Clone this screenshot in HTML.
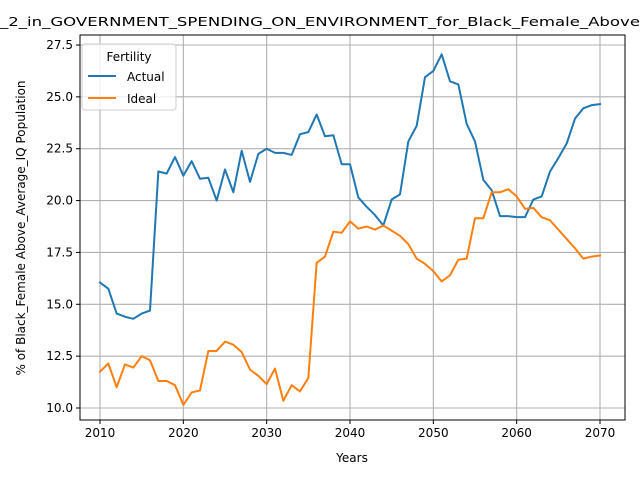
<!DOCTYPE html>
<html><head><meta charset="utf-8"><style>
body{margin:0;background:#fff}
svg{display:block;font-family:"DejaVu Sans","Liberation Sans",sans-serif}
</style></head><body>
<svg id="chart" width="640" height="480">
<text x="0" y="26" font-size="12.5" textLength="640" lengthAdjust="spacingAndGlyphs">_2_in_GOVERNMENT_SPENDING_ON_ENVIRONMENT_for_Black_Female_Above</text>
<g id="grid"></g><g id="axes"></g><g id="series"></g>
<rect x="80" y="35" width="545" height="385" fill="none" stroke="#000" stroke-width="1"/>
<text x="352" y="462" font-size="12" text-anchor="middle">Years</text>
<text transform="translate(25,228) rotate(-90)" font-size="12" text-anchor="middle">% of Black_Female Above_Average_IQ Population</text>
<g>
<rect x="82" y="44" width="94" height="66" rx="3" fill="#fff" fill-opacity="0.8" stroke="#ccc"/>
<text x="129" y="61" font-size="12" text-anchor="middle">Fertility</text>
<line x1="88" y1="76" x2="116" y2="76" stroke="#1f77b4" stroke-width="2"/>
<text x="127" y="81" font-size="12">Actual</text>
<line x1="88" y1="98" x2="116" y2="98" stroke="#ff7f0e" stroke-width="2"/>
<text x="127" y="103" font-size="12">Ideal</text>
</g>
</svg>
<script>
const years=[];for(let y=2010;y<=2070;y++)years.push(y);
const actual=[16.05,15.75,14.55,14.4,14.3,14.55,14.7,21.4,21.3,22.1,21.2,21.9,21.05,21.1,20.0,21.5,20.4,22.4,20.9,22.25,22.5,22.3,22.3,22.2,23.2,23.3,24.15,23.1,23.15,21.75,21.75,20.15,19.7,19.3,18.8,20.05,20.3,22.85,23.6,25.95,26.25,27.05,25.75,25.6,23.7,22.85,21.0,20.5,19.25,19.25,19.2,19.2,20.05,20.2,21.4,22.05,22.75,23.95,24.45,24.6,24.65];
const ideal=[11.75,12.15,11.0,12.1,11.95,12.5,12.3,11.3,11.3,11.1,10.15,10.75,10.85,12.75,12.75,13.2,13.05,12.7,11.85,11.55,11.15,11.9,10.35,11.1,10.8,11.45,17.0,17.3,18.5,18.45,19.0,18.65,18.75,18.6,18.8,18.55,18.3,17.9,17.2,16.95,16.6,16.1,16.4,17.15,17.2,19.15,19.15,20.4,20.4,20.55,20.2,19.6,19.65,19.2,19.05,18.6,18.15,17.7,17.2,17.3,17.35];
const xTicks=[2010,2020,2030,2040,2050,2060,2070];
const yTicks=[10.0,12.5,15.0,17.5,20.0,22.5,25.0,27.5];
const NS="http://www.w3.org/2000/svg";
const X=v=>100+(v-2010)*500/60;
const Y=v=>408-(v-10)*363/17.5;
function mk(t,a,p){const e=document.createElementNS(NS,t);for(const k in a)e.setAttribute(k,a[k]);p.appendChild(e);return e;}
const grid=document.getElementById('grid'),axes=document.getElementById('axes'),ser=document.getElementById('series');
xTicks.forEach(t=>{
 const g=mk('line',{x1:X(t),x2:X(t),y1:35,y2:420,stroke:'#b0b0b0','stroke-width':1.1},grid);
 
 
 mk('line',{x1:X(t),x2:X(t),y1:420,y2:424,stroke:'#000'},axes);
 const l=mk('text',{x:X(t),y:437,'font-size':12,'text-anchor':'middle'},axes);
 l.textContent=t;
 
 
});
yTicks.forEach(t=>{
 const g=mk('line',{x1:80,x2:625,y1:Y(t),y2:Y(t),stroke:'#b0b0b0','stroke-width':1.1},grid);
 
 
 mk('line',{x1:76,x2:80,y1:Y(t),y2:Y(t),stroke:'#000'},axes);
 const l=mk('text',{x:73,y:Y(t)+4,'font-size':12,'text-anchor':'end'},axes);
 l.textContent=t.toFixed(1);
 
 
});
function line(vals,color,name){
 const p=mk('polyline',{points:vals.map((v,i)=>X(years[i])+','+Y(v)).join(' '),fill:'none',stroke:color,'stroke-width':2,'stroke-linejoin':'round','stroke-linecap':'square'},ser);
 
 
}
line(actual,'#1f77b4','actual-line');
line(ideal,'#ff7f0e','ideal-line');
</script>
</body></html>
